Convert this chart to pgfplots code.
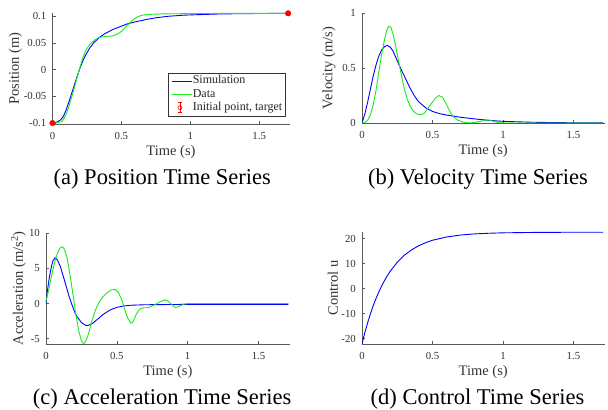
\documentclass[border=0pt]{standalone}
\usepackage{fontspec}
\setmainfont{Liberation Serif}
\usepackage{pgfplots}
\pgfplotsset{compat=1.18}
\definecolor{simblue}{rgb}{0,0,1}
\definecolor{datagreen}{rgb}{0.1,0.92,0.1}
\definecolor{axgray}{gray}{0.35}
\definecolor{txtgray}{gray}{0.2}
\pgfplotsset{
  mystyle/.style={
    scale only axis,
    anchor=south west,
    axis lines=left,
    axis line style={-, draw=axgray, line width=0.5bp},
    tick align=inside,
    major tick length=3bp,
    tick style={draw=axgray, line width=0.5bp},
    xmin=0, xmax=1.72,
    xtick={0,0.5,1,1.5}, xticklabels={0,0.5,1,1.5},
    tick label style={font=\fontsize{10.8bp}{12bp}\selectfont, text=txtgray},
    xticklabel style={anchor=base, yshift=-16bp, inner sep=0pt},
    yticklabel style={anchor=east, xshift=-6bp, inner sep=0pt},
    label style={font=\fontsize{14.5bp}{16bp}\selectfont, text=txtgray},
    xlabel={Time (s)},
    xlabel style={at={(axis description cs:0.5,0)}, anchor=base, yshift=-32bp},
  },
  simline/.style={simblue, line width=0.9bp},
  dataline/.style={datagreen, line width=0.9bp},
}
\begin{document}
\begin{tikzpicture}
\path[use as bounding box] (0,0) rectangle (608bp,410bp);

% (a) Position
\begin{axis}[mystyle,
  at={(52.5bp,286.2bp)}, width=237bp, height=111bp,
  ymin=-0.1015, ymax=0.106,
  ytick={-0.1,-0.05,0,0.05,0.1}, yticklabels={-0.1,-0.05,0,0.05,0.1},
  ylabel={Position (m)},
  ylabel style={at={(axis description cs:-0.1414,0.5)}, anchor=base},
  clip=false,
  legend style={at={(axis description cs:0.486,0.458)}, anchor=north west,
    draw=black!80, line width=0.4bp, fill=white,
    inner xsep=2bp, inner ysep=1.5bp,
    font=\fontsize{12bp}{12bp}\selectfont, text=black!85,
    cells={anchor=west}, row sep=0.3bp, column sep=0pt,
    nodes={inner sep=0.5bp, text height=8.7bp, text depth=3.3bp}},
  legend image code/.code={\path (0bp,0bp) (21.5bp,0bp); \draw[#1] (2bp,0bp) -- (21.3bp,0bp);},
]
\addplot[simline] coordinates {
(0,-0.1) (0.03,-0.0985) (0.06,-0.094) (0.08,-0.087) (0.10,-0.075) (0.12,-0.060)
(0.14,-0.044) (0.16,-0.028) (0.18,-0.012) (0.20,0.003) (0.22,0.016) (0.24,0.027)
(0.27,0.040) (0.30,0.050) (0.34,0.060) (0.38,0.067) (0.44,0.075) (0.50,0.081)
(0.54,0.085) (0.60,0.089) (0.69,0.094) (0.76,0.097) (0.84,0.0995) (0.95,0.1015)
(1.05,0.1025) (1.2,0.1037) (1.4,0.1045) (1.71,0.105)};
\addlegendentry{Simulation}
\addplot[dataline] coordinates {
(0,-0.1) (0.04,-0.0995) (0.07,-0.097) (0.10,-0.083) (0.12,-0.068) (0.14,-0.051)
(0.16,-0.033) (0.18,-0.013) (0.20,0.005) (0.22,0.022) (0.24,0.035) (0.27,0.047)
(0.30,0.054) (0.33,0.059) (0.36,0.061) (0.40,0.062) (0.44,0.063) (0.47,0.066)
(0.50,0.071) (0.53,0.079) (0.56,0.087) (0.59,0.094) (0.62,0.099) (0.65,0.1015)
(0.70,0.103) (0.80,0.104) (1.0,0.1045) (1.3,0.105) (1.71,0.105)};
\addlegendentry{Data}
\addplot[only marks, mark=*, mark size=2.8bp, red, mark options={draw=red, fill=red},
  legend image code/.code={
    \path (0bp,0bp) (21.5bp,0bp);
    \draw[red, line width=0.6bp] (9.6bp,-5bp) -- (9.6bp,5bp);
    \draw[red, line width=0.6bp] (8bp,-5bp) -- (11.2bp,-5bp);
    \draw[red, line width=0.6bp] (8bp,5bp) -- (11.2bp,5bp);
    \draw[red, line width=0.6bp] (9.6bp,0bp) circle (2bp);}]
  coordinates {(0,-0.1) (1.71,0.105)};
\addlegendentry{Initial point, target}
\end{axis}

% (b) Velocity
\begin{axis}[mystyle,
  at={(362bp,287bp)}, width=242.5bp, height=110bp,
  ymin=0, ymax=1,
  ytick={0,0.5,1}, yticklabels={0,0.5,1},
  ylabel={Velocity (m/s)},
  ylabel style={at={(axis description cs:-0.122,0.5)}, anchor=base},
]
\addplot[simline] coordinates {
(0,0) (0.02,0.08) (0.04,0.19) (0.06,0.31) (0.08,0.43) (0.10,0.53) (0.12,0.61)
(0.14,0.665) (0.16,0.695) (0.18,0.705) (0.20,0.69) (0.22,0.655) (0.25,0.565)
(0.28,0.48) (0.31,0.40) (0.34,0.32) (0.37,0.25) (0.40,0.195) (0.45,0.14)
(0.50,0.105) (0.55,0.085) (0.60,0.072) (0.70,0.052) (0.80,0.037) (0.90,0.024)
(1.00,0.015) (1.20,0.007) (1.40,0.003) (1.71,0.001)};
\addplot[dataline] coordinates {
(0,0) (0.02,0.004) (0.04,0.025) (0.06,0.075) (0.08,0.17) (0.10,0.30) (0.12,0.47)
(0.14,0.63) (0.16,0.76) (0.175,0.84) (0.19,0.88) (0.205,0.87) (0.22,0.81)
(0.24,0.69) (0.26,0.56) (0.28,0.43) (0.30,0.31) (0.32,0.22) (0.34,0.155)
(0.36,0.115) (0.38,0.09) (0.40,0.077) (0.42,0.075) (0.44,0.088) (0.46,0.12)
(0.48,0.155) (0.50,0.19) (0.52,0.225) (0.545,0.25) (0.57,0.235) (0.59,0.19)
(0.61,0.14) (0.63,0.09) (0.65,0.055) (0.68,0.025) (0.72,0.007) (0.76,0.001)
(0.80,0.004) (0.84,0.015) (0.88,0.028) (0.91,0.025) (0.94,0.012) (0.97,0.003)
(1.0,0.0) (1.71,0.0)};
\end{axis}

% (c) Acceleration
\begin{axis}[mystyle,
  at={(46bp,66bp)}, width=243.7bp, height=111bp,
  ymin=-5.75, ymax=10,
  ytick={-5,0,5,10}, yticklabels={-5,0,5,10},
  ylabel={Acceleration (m/s\textsuperscript{2})},
  ylabel style={at={(axis description cs:-0.0944,0.5)}, anchor=base},
]
\addplot[simline] coordinates {
(0,0) (0.01,1.8) (0.02,3.2) (0.03,4.4) (0.04,5.4) (0.05,6.1) (0.065,6.5)
(0.08,6.2) (0.10,5.3) (0.12,4.0) (0.14,2.6) (0.16,1.2) (0.18,0.0) (0.20,-1.1)
(0.22,-1.9) (0.25,-2.7) (0.28,-3.1) (0.30,-3.1) (0.33,-2.8) (0.36,-2.3)
(0.40,-1.6) (0.45,-0.95) (0.50,-0.55) (0.55,-0.35) (0.60,-0.25) (0.70,-0.18)
(0.85,-0.15) (1.0,-0.13) (1.3,-0.12) (1.71,-0.12)};
\addplot[dataline] coordinates {
(0,0.3) (0.02,2.0) (0.04,4.0) (0.06,5.8) (0.08,7.1) (0.10,7.9) (0.115,8.05)
(0.13,7.7) (0.15,6.4) (0.17,4.0) (0.19,1.3) (0.21,-1.5) (0.23,-3.8) (0.25,-5.3)
(0.265,-5.7) (0.28,-5.4) (0.30,-4.3) (0.325,-2.4) (0.35,-0.9) (0.375,0.2)
(0.40,0.9) (0.43,1.5) (0.46,1.9) (0.485,2.0) (0.51,1.6) (0.535,0.5) (0.555,-0.8)
(0.575,-2.0) (0.60,-2.8) (0.615,-2.6) (0.635,-1.6) (0.66,-0.8) (0.69,-0.6)
(0.72,-0.6) (0.75,-0.35) (0.78,-0.05) (0.81,0.3) (0.84,0.5) (0.86,0.35)
(0.88,0.0) (0.90,-0.4) (0.915,-0.55) (0.94,-0.4) (0.97,-0.1) (1.0,0.0) (1.71,0.0)};
\end{axis}

% (d) Control
\begin{axis}[mystyle,
  at={(362bp,66bp)}, width=242.5bp, height=112.25bp,
  ymin=-22.2, ymax=22.7,
  ytick={-20,-10,0,10,20}, yticklabels={-20,-10,0,10,20},
  ylabel={Control u},
  ylabel style={at={(axis description cs:-0.099,0.5)}, anchor=base},
]
\addplot[simline] coordinates {
(0,-22.2) (0.02,-17.7) (0.04,-13.7) (0.06,-10.1) (0.08,-6.8) (0.10,-3.9)
(0.125,-0.65) (0.15,2.2) (0.175,4.7) (0.20,6.9) (0.25,10.5) (0.30,13.3)
(0.35,15.4) (0.40,17.05) (0.45,18.3) (0.50,19.3) (0.60,20.6) (0.70,21.4)
(0.80,21.85) (0.90,22.1) (1.00,22.27) (1.20,22.42) (1.40,22.48) (1.71,22.5)};
\end{axis}

\node[anchor=base, font=\fontsize{22.5bp}{27bp}\selectfont] at (162.3bp,225bp) {(a) Position Time Series};
\node[anchor=base, font=\fontsize{22.5bp}{27bp}\selectfont] at (478bp,225bp) {(b) Velocity Time Series};
\node[anchor=base, font=\fontsize{22.5bp}{27bp}\selectfont] at (162.2bp,6bp) {(c) Acceleration Time Series};
\node[anchor=base, font=\fontsize{22.5bp}{27bp}\selectfont] at (477.5bp,6bp) {(d) Control Time Series};
\end{tikzpicture}
\end{document}
